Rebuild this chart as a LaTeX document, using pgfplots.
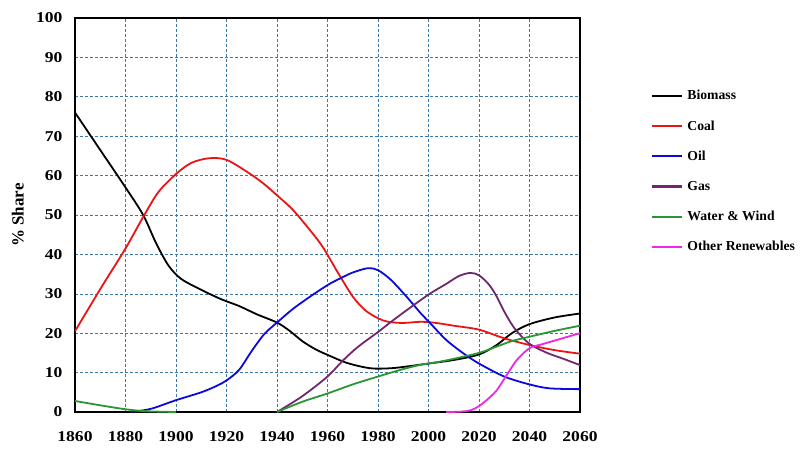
\documentclass[border=0pt]{standalone}
\usepackage{pgfplots}
\pgfplotsset{compat=1.18}
\usepackage{fontspec}
\setmainfont{Liberation Serif}
\newfontfamily\tickfont[FakeStretch=1.17]{Liberation Serif}
\definecolor{gridblue}{RGB}{60,120,170}
\definecolor{gasviolet}{RGB}{110,40,110}
\definecolor{wwgreen}{RGB}{40,150,50}
\definecolor{othermag}{RGB}{240,40,230}
\definecolor{coalred}{RGB}{235,20,20}
\definecolor{oilblue}{RGB}{10,10,220}

\begin{document}
\begin{tikzpicture}
\path[use as bounding box] (0,0) rectangle (800pt,450pt);
\begin{axis}[
    anchor=south west, at={(75pt,38pt)},
    scale only axis, width=505pt, height=394pt,
    xmin=1860, xmax=2060, ymin=0, ymax=100,
    xtick={1860,1880,...,2060}, ytick={0,10,...,100},
    grid=major,
    major grid style={gridblue, densely dashed, line width=0.6pt},
    major tick length=0pt,
    axis line style={black, line width=1.1pt},
    tick label style={font=\tickfont\fontsize{15}{18}\selectfont\bfseries},
    xticklabel style={yshift=-16pt},
    yticklabel style={xshift=-9pt},
    /pgf/number format/assume math mode=true,
    /pgf/number format/1000 sep={},
    ylabel={\% Share},
    ylabel style={font=\fontsize{17}{19}\selectfont\bfseries, anchor=center,
        at={(axis description cs:-0.113,0.5)}},
    legend cell align=left,
    legend style={at={(axis description cs:1.141,0.822)}, anchor=north west, draw=none, fill=none,
        font=\fontsize{13.7}{15}\selectfont\bfseries, row sep=15.3pt, inner sep=0pt},
    legend image code/.code={\draw[#1, line width=2.1pt] (0pt,0pt) -- (30pt,0pt);
        \path (32pt,0pt);},
    every axis plot/.append style={line width=1.8pt, smooth, tension=0.5},
]
\addplot[black] coordinates {
    (1860,76) (1870,66.5) (1880,57) (1887,50) (1892,43) (1897,37.2)
    (1902,33.8) (1910,31) (1918,28.6) (1925,26.9) (1932,24.8) (1940,22.7)
    (1945,20.6) (1950,18) (1955,16) (1960,14.5) (1968,12.4) (1977,11.1)
    (1985,11.1) (1992,11.6) (2000,12.3) (2010,13.2) (2020,14.6) (2027,17)
    (2033,20) (2040,22.3) (2050,24) (2060,25)
};
\addplot[coalred] coordinates {
    (1860,20.5) (1870,31.2) (1880,41.5) (1887,49.5) (1893,55.8) (1900,60.4)
    (1906,63.2) (1913,64.4) (1920,64) (1929,60.6) (1935,57.8) (1940,55)
    (1946,51.5) (1952,47) (1958,42) (1964,35.5) (1970,29.3) (1975,25.8)
    (1980,23.8) (1984,22.9) (1990,22.6) (1997,22.9) (2003,22.6) (2010,21.9)
    (2020,20.9) (2030,18.7) (2040,17) (2050,15.7) (2060,14.8)
};
\addplot[oilblue] coordinates {
    (1882,0) (1890,0.8) (1900,3) (1910,5) (1916,6.6) (1920,8) (1925,10.7)
    (1930,15.5) (1935,19.8) (1940,22.7) (1946,26) (1952,28.8) (1960,32.2)
    (1965,33.9) (1970,35.4) (1976,36.5) (1980,36) (1985,33.6) (1991,29.5)
    (1997,25) (2000,23) (2007,18.3) (2014,14.8) (2020,12.3) (2030,9) (2040,7)
    (2048,6) (2060,5.8)
};
\addplot[gasviolet] coordinates {
    (1940,0) (1950,4) (1960,9) (1966,13) (1972,16.5) (1980,20.3) (1985,22.8)
    (1990,25.2) (2000,29.8) (2007,32.5) (2012,34.5) (2016.5,35.3) (2020,34.7)
    (2024,32.3) (2027,29.3) (2030,25.5) (2034,21.3) (2040,17.3) (2047,15)
    (2053,13.6) (2060,11.9)
};
\addplot[wwgreen] coordinates {
    (1940,0) (1950,2.6) (1960,4.7) (1970,7) (1980,9) (1990,10.9) (1997,12)
    (2003,12.6) (2010,13.5) (2020,15) (2027,16.6) (2033,18) (2040,19.1)
    (2050,20.6) (2060,21.9)
};
\addplot[wwgreen, forget plot] coordinates {
    (1860,2.8) (1870,1.7) (1880,0.7) (1888,0.2) (1900,0)
};
\addplot[othermag] coordinates {
    (2007,0) (2013,0.1) (2017,0.5) (2020,1.5) (2023,3) (2027,5.5) (2031,9.4)
    (2035,13.2) (2040,16.2) (2045,17.2) (2053,18.7) (2060,20)
};
\legend{Biomass, Coal, Oil, Gas, Water \& Wind, Other Renewables}
\end{axis}
\end{tikzpicture}
\end{document}
